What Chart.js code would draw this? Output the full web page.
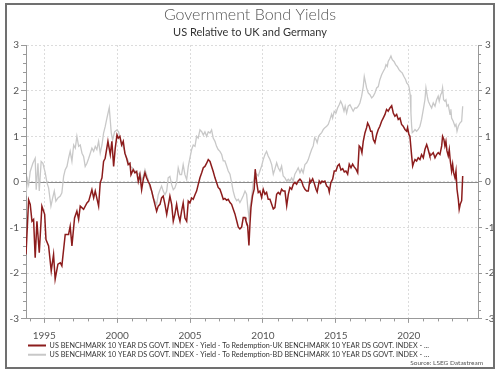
<!DOCTYPE html>
<html><head><meta charset="utf-8">
<script src="https://cdn.jsdelivr.net/npm/chart.js@4/dist/chart.umd.min.js"></script>
<style>html,body{margin:0;padding:0;background:#fff;}#wrap{position:relative;width:500px;height:375px;}</style>
</head><body><div id="wrap"><canvas id="c" width="500" height="375"></canvas></div>
<script>
// US minus UK 10y spread
const ukDates = [1993.75,1993.93,1994.04,1994.16,1994.27,1994.38,1994.50,1994.66,1994.84,1995.03,1995.12,1995.30,1995.48,1995.64,1995.75,1995.94,1996.10,1996.21,1996.44,1996.67,1996.78,1996.90,1997.08,1997.24,1997.36,1997.47,1997.70,1997.93,1998.05,1998.27,1998.39,1998.50,1998.73,1998.84,1998.96,1999.07,1999.18,1999.37,1999.53,1999.64,1999.76,1999.87,1999.99,2000.08,2000.19,2000.31,2000.42,2000.53,2000.65,2000.76,2000.88,2000.95,2001.10,2001.22,2001.34,2001.45,2001.56,2001.68,2001.79,2001.91,2002.02,2002.13,2002.25,2002.37,2002.48,2002.59,2002.71,2002.82,2002.94,2003.05,2003.16,2003.28,2003.40,2003.50,2003.62,2003.74,2003.85,2003.96,2004.08,2004.19,2004.31,2004.42,2004.53,2004.65,2004.77,2004.88,2004.99,2005.11,2005.22,2005.34,2005.45,2005.56,2005.68,2005.80,2005.91,2006.02,2006.14,2006.25,2006.37,2006.48,2006.59,2006.71,2006.82,2006.93,2007.05,2007.17,2007.28,2007.39,2007.51,2007.62,2007.74,2007.85,2007.96,2008.08,2008.20,2008.31,2008.42,2008.54,2008.65,2008.77,2008.83,2008.95,2009.04,2009.11,2009.18,2009.29,2009.40,2009.47,2009.57,2009.68,2009.79,2009.91,2010.02,2010.14,2010.25,2010.36,2010.48,2010.60,2010.71,2010.82,2010.94,2011.05,2011.17,2011.28,2011.39,2011.51,2011.63,2011.74,2011.85,2011.97,2012.08,2012.19,2012.31,2012.42,2012.54,2012.65,2012.76,2012.88,2013.00,2013.11,2013.22,2013.27,2013.41,2013.50,2013.64,2013.72,2013.86,2013.96,2014.05,2014.14,2014.25,2014.37,2014.48,2014.55,2014.66,2014.78,2014.89,2015.01,2015.12,2015.23,2015.35,2015.47,2015.58,2015.69,2015.81,2015.92,2016.04,2016.15,2016.26,2016.38,2016.50,2016.60,2016.70,2016.79,2016.88,2017.00,2017.11,2017.18,2017.29,2017.39,2017.48,2017.57,2017.68,2017.80,2017.91,2018.02,2018.14,2018.25,2018.37,2018.48,2018.59,2018.71,2018.83,2018.94,2019.05,2019.17,2019.28,2019.40,2019.51,2019.62,2019.74,2019.86,2019.92,2020.01,2020.08,2020.15,2020.20,2020.27,2020.34,2020.43,2020.54,2020.65,2020.77,2020.88,2021.00,2021.11,2021.23,2021.30,2021.39,2021.45,2021.57,2021.68,2021.80,2021.91,2022.02,2022.14,2022.26,2022.32,2022.41,2022.48,2022.55,2022.62,2022.71,2022.78,2022.85,2022.94,2023.01,2023.08,2023.17,2023.24,2023.31,2023.40,2023.46,2023.53,2023.63,2023.70];
const ukSpread = [-1.59,-0.39,-0.49,-0.86,-0.82,-1.66,-0.86,-1.55,-0.53,-0.71,-1.26,-1.40,-1.95,-1.59,-2.13,-1.80,-1.77,-1.84,-1.15,-1.15,-0.97,-1.40,-0.79,-0.64,-0.82,-0.53,-0.60,-0.46,-0.42,-0.17,-0.35,-0.20,-0.53,-0.02,0.09,0.45,0.52,0.89,0.60,0.89,0.34,0.74,1.03,0.96,1.00,0.81,0.89,0.63,0.52,0.38,0.41,0.16,0.27,0.20,0.23,0.01,0.16,-0.17,0.05,0.20,0.09,0.01,-0.06,-0.20,-0.35,-0.49,-0.64,-0.53,-0.49,-0.35,-0.31,-0.49,-0.71,-0.53,-0.31,-0.49,-0.86,-0.71,-0.49,-0.71,-0.86,-0.64,-0.46,-0.79,-0.86,-0.42,-0.46,-0.35,-0.38,-0.28,-0.20,-0.06,0.09,0.20,0.31,0.34,0.41,0.49,0.45,0.34,0.23,0.09,-0.01,-0.12,-0.16,-0.27,-0.38,-0.36,-0.40,-0.38,-0.45,-0.49,-0.59,-0.70,-0.85,-0.99,-1.03,-0.99,-0.78,-0.78,-0.85,-0.96,-1.39,-0.92,-0.56,-0.30,-0.16,0.28,-0.01,-0.23,-0.20,-0.34,-0.16,-0.27,-0.23,-0.38,-0.38,-0.49,-0.59,-0.56,-0.27,-0.23,-0.27,-0.16,-0.20,-0.20,-0.52,-0.27,-0.12,-0.16,-0.05,-0.01,-0.05,0.02,0.06,0.02,-0.09,-0.16,-0.20,-0.20,0.04,-0.01,0.07,-0.01,-0.16,-0.22,0.02,-0.03,0.02,0.00,0.02,-0.09,-0.12,-0.22,-0.01,0.06,0.24,0.24,0.35,0.39,0.26,0.29,0.22,0.24,0.17,0.39,0.31,0.39,0.33,0.28,0.20,0.79,0.75,0.64,0.89,1.08,1.19,1.29,1.22,1.11,1.11,0.93,0.86,1.04,1.15,1.22,1.33,1.40,1.48,1.59,1.55,1.62,1.67,1.51,1.44,1.48,1.37,1.40,1.26,1.22,1.15,1.11,1.19,1.04,1.00,0.75,0.57,0.35,0.42,0.49,0.46,0.53,0.49,0.60,0.53,0.71,0.82,0.75,0.64,0.57,0.60,0.64,0.53,0.60,0.64,0.60,0.79,1.00,0.93,0.79,0.89,0.68,0.57,0.71,0.46,0.24,0.39,0.20,0.09,0.24,-0.16,-0.38,-0.60,-0.49,-0.41,0.13];
// US minus Germany (BD) 10y spread
const deDates = [1993.75,1993.85,1993.93,1994.04,1994.22,1994.38,1994.45,1994.57,1994.66,1994.79,1994.91,1995.07,1995.19,1995.30,1995.46,1995.58,1995.69,1995.80,1995.94,1996.10,1996.21,1996.33,1996.44,1996.56,1996.67,1996.78,1996.90,1997.02,1997.13,1997.24,1997.36,1997.47,1997.59,1997.70,1997.81,1997.93,1998.05,1998.16,1998.27,1998.39,1998.50,1998.61,1998.73,1998.84,1998.96,1999.07,1999.18,1999.30,1999.46,1999.60,1999.69,1999.83,1999.99,2000.10,2000.26,2000.35,2000.49,2000.60,2000.72,2000.81,2000.93,2001.04,2001.15,2001.27,2001.41,2001.56,2001.68,2001.79,2001.91,2002.02,2002.13,2002.25,2002.37,2002.48,2002.59,2002.71,2002.82,2002.94,2003.05,2003.16,2003.28,2003.40,2003.50,2003.62,2003.74,2003.85,2003.96,2004.08,2004.19,2004.31,2004.42,2004.53,2004.65,2004.77,2004.88,2004.99,2005.11,2005.22,2005.34,2005.45,2005.56,2005.68,2005.80,2005.91,2006.02,2006.14,2006.25,2006.37,2006.48,2006.59,2006.71,2006.82,2006.93,2007.05,2007.17,2007.28,2007.39,2007.51,2007.62,2007.74,2007.85,2007.96,2008.08,2008.20,2008.31,2008.42,2008.54,2008.65,2008.77,2008.88,2008.95,2009.04,2009.11,2009.22,2009.34,2009.45,2009.57,2009.68,2009.79,2009.91,2010.02,2010.14,2010.25,2010.36,2010.48,2010.60,2010.71,2010.82,2010.94,2011.05,2011.17,2011.28,2011.39,2011.51,2011.63,2011.74,2011.85,2011.97,2012.08,2012.19,2012.31,2012.42,2012.54,2012.65,2012.76,2012.88,2013.00,2013.11,2013.22,2013.34,2013.45,2013.55,2013.64,2013.72,2013.82,2013.91,2014.03,2014.14,2014.25,2014.37,2014.48,2014.60,2014.71,2014.78,2014.89,2015.01,2015.12,2015.23,2015.33,2015.44,2015.56,2015.64,2015.74,2015.85,2015.97,2016.08,2016.19,2016.31,2016.43,2016.54,2016.65,2016.77,2016.88,2016.95,2017.04,2017.11,2017.22,2017.34,2017.46,2017.57,2017.68,2017.80,2017.91,2018.02,2018.14,2018.25,2018.37,2018.44,2018.53,2018.59,2018.71,2018.78,2018.87,2018.99,2019.10,2019.21,2019.33,2019.44,2019.55,2019.67,2019.79,2019.86,2019.97,2020.03,2020.10,2020.15,2020.20,2020.24,2020.34,2020.43,2020.54,2020.65,2020.77,2020.88,2021.00,2021.11,2021.18,2021.27,2021.34,2021.45,2021.57,2021.68,2021.80,2021.91,2022.02,2022.09,2022.19,2022.26,2022.32,2022.39,2022.48,2022.55,2022.62,2022.71,2022.83,2022.89,2022.94,2023.05,2023.17,2023.24,2023.31,2023.40,2023.51,2023.63,2023.70];
const deSpread = [-0.30,0.05,-0.06,0.23,0.41,0.52,-0.17,0.41,-0.20,0.45,0.41,0.20,-0.02,-0.13,-0.53,-0.35,-0.20,-0.42,-0.35,-0.31,-0.24,0.12,0.27,0.34,0.52,0.67,0.45,0.81,0.74,1.00,0.78,0.81,0.63,0.56,0.34,0.41,0.52,0.63,0.74,0.67,0.78,0.71,0.89,0.63,0.81,1.07,1.21,1.40,1.63,1.07,0.92,1.10,1.14,1.10,0.89,0.81,0.71,0.56,0.49,0.41,0.34,0.31,0.27,0.23,0.16,0.20,0.05,0.12,0.27,0.16,0.05,-0.13,-0.20,-0.35,-0.42,-0.49,-0.28,-0.17,-0.09,-0.20,-0.28,-0.20,0.09,0.12,-0.06,-0.17,-0.13,-0.02,0.31,0.16,0.16,0.38,0.16,0.05,0.34,0.52,0.71,0.81,0.78,1.00,0.96,1.14,1.10,1.03,1.10,1.00,1.10,1.07,1.14,0.96,0.89,0.78,0.71,0.67,0.60,0.46,0.46,0.35,0.24,0.17,-0.01,-0.20,-0.34,-0.41,-0.38,-0.45,-0.38,-0.30,-0.20,-0.27,-0.52,-0.78,-0.56,-0.34,-0.01,0.20,0.17,0.13,0.24,0.35,0.49,0.60,0.67,0.57,0.49,0.38,0.17,0.28,0.42,0.31,0.24,0.35,0.13,0.09,0.02,0.06,0.02,0.09,0.02,0.17,0.24,0.31,0.20,0.28,0.20,0.38,0.42,0.49,0.60,0.71,0.79,0.97,0.93,0.86,1.00,1.04,1.08,1.15,1.19,1.22,1.26,1.37,1.48,1.40,1.55,1.51,1.62,1.69,1.77,1.69,1.55,1.66,1.51,1.66,1.69,1.62,1.55,1.62,1.62,1.66,1.73,1.88,2.09,2.31,2.17,2.06,1.95,1.91,1.84,1.88,1.95,2.06,2.09,2.24,2.35,2.42,2.49,2.57,2.53,2.64,2.71,2.76,2.68,2.64,2.57,2.53,2.46,2.42,2.39,2.31,2.24,2.17,2.13,2.06,1.91,1.51,1.22,1.08,1.11,1.15,1.11,1.15,1.22,1.37,1.59,1.80,2.06,1.88,1.77,1.69,1.62,1.73,1.66,1.80,1.88,1.77,1.91,1.95,2.06,1.80,1.77,1.80,1.66,1.69,1.48,1.59,1.40,1.33,1.22,1.26,1.11,1.22,1.29,1.33,1.66];
const yearTicks = [1995,2000,2005,2010,2015,2020];
const valueTicks = [-3,-2,-1,0,1,2,3];
const seriesNames = [
  'US BENCHMARK 10 YEAR DS GOVT. INDEX - Yield - To Redemption-UK BENCHMARK 10 YEAR DS GOVT. INDEX - ...',
  'US BENCHMARK 10 YEAR DS GOVT. INDEX - Yield - To Redemption-BD BENCHMARK 10 YEAR DS GOVT. INDEX - ...'
];
const seriesColors = ['#8c1c1c', '#c8c8c8'];

const toPoints = (xs, ys) => xs.map((x, i) => ({x: x, y: ys[i]}));

const decor = {
  id: 'decor',
  beforeDatasetsDraw(chart) {
    const {ctx, chartArea: a, scales: {y}} = chart;
    const y0 = Math.round(y.getPixelForValue(0)) + 0.5;
    ctx.save();
    ctx.strokeStyle = '#8a8a8a';
    ctx.lineWidth = 1;
    ctx.beginPath(); ctx.moveTo(a.left, y0); ctx.lineTo(a.right, y0); ctx.stroke();
    ctx.restore();
  },
  afterDraw(chart) {
    const {ctx, chartArea: a, scales: {x, y}} = chart;
    ctx.save();
    ctx.strokeStyle = '#999';
    ctx.lineWidth = 1;
    ctx.beginPath();
    for (let yr = 1994; yr <= 2024; yr++) {
      if (yr % 5 === 0) continue;
      const px = Math.round(x.getPixelForValue(yr)) + 0.5;
      ctx.moveTo(px, a.bottom); ctx.lineTo(px, a.bottom + 2.5);
    }
    for (let k = -15; k <= 15; k++) {
      if (k % 5 === 0) continue;
      const py = Math.round(y.getPixelForValue(k / 5)) + 0.5;
      ctx.moveTo(a.left - 3, py); ctx.lineTo(a.left, py);
      ctx.moveTo(a.right, py); ctx.lineTo(a.right + 3, py);
    }
    ctx.stroke();
    ctx.strokeStyle = '#707070';
    ctx.lineWidth = 2;
    ctx.strokeRect(6, 4, 488, 364);
    ctx.fillStyle = '#555';
    ctx.font = '6.5px Lato';
    ctx.textAlign = 'right';
    ctx.textBaseline = 'middle';
    ctx.fillText('Source: LSEG Datastream', 483, 363);
    ctx.restore();
  }
};

new Chart(document.getElementById('c'), {
  type: 'line',
  data: {
    datasets: [
      {label: seriesNames[0], data: toPoints(ukDates, ukSpread), borderColor: seriesColors[0], backgroundColor: seriesColors[0], borderWidth: 1.5, pointRadius: 0, tension: 0},
      {label: seriesNames[1], data: toPoints(deDates, deSpread), borderColor: seriesColors[1], backgroundColor: seriesColors[1], borderWidth: 1.3, pointRadius: 0, tension: 0}
    ]
  },
  options: {
    responsive: false,
    animation: false,
    devicePixelRatio: 1,
    layout: {padding: {top: 0, left: 0, right: 0, bottom: 6.7}},
    font: {family: 'Lato'},
    plugins: {
      title: {display: true, text: 'Government Bond Yields', color: '#555', font: {family: 'Lato', size: 16, weight: '300'}, padding: {top: 5.4, bottom: 0}},
      subtitle: {display: true, text: 'US Relative to UK and Germany', color: '#333', font: {family: 'Lato', size: 11}, padding: {top: 1, bottom: 6.2}},
      legend: {
        position: 'bottom', align: 'start', fullSize: false,
        labels: {
          boxWidth: 18, boxHeight: 2, padding: 2, color: '#333', font: {family: 'Lato', size: 7.2},
          generateLabels: (chart) => chart.data.datasets.map((d, i) => ({text: d.label, fillStyle: d.borderColor, strokeStyle: d.borderColor, lineWidth: 0, hidden: false, datasetIndex: i, fontColor: '#333'}))
        }
      },
      tooltip: {enabled: false}
    },
    scales: {
      x: {
        type: 'linear', min: 1993.75, max: 2024.75,
        afterBuildTicks: (s) => { s.ticks = yearTicks.map(v => ({value: v})); },
        afterFit: (s) => { s.height = 21; },
        ticks: {callback: (v) => String(v), color: '#555', font: {family: 'Lato', size: 10}, padding: 7, maxRotation: 0},
        grid: {color: '#dcdcdc', tickLength: 4, tickColor: '#999'},
        border: {color: '#999', dash: [2, 2]}
      },
      y: {
        type: 'linear', position: 'left', min: -3, max: 3,
        afterBuildTicks: (s) => { s.ticks = valueTicks.map(v => ({value: v})); },
        afterFit: (s) => { s.width = 26; },
        ticks: {color: '#555', font: {family: 'Lato', size: 10}, padding: 2},
        grid: {color: '#dcdcdc', tickLength: 5, tickColor: '#999'},
        border: {color: '#999', dash: [2, 2]}
      },
      yR: {
        type: 'linear', position: 'right', min: -3, max: 3,
        afterBuildTicks: (s) => { s.ticks = valueTicks.map(v => ({value: v})); },
        afterFit: (s) => { s.width = 22; },
        ticks: {color: '#555', font: {family: 'Lato', size: 10}, padding: 3},
        grid: {drawOnChartArea: false, tickLength: 4, tickColor: '#999'},
        border: {color: '#999'}
      }
    }
  },
  plugins: [decor]
});
</script>
</body></html>
